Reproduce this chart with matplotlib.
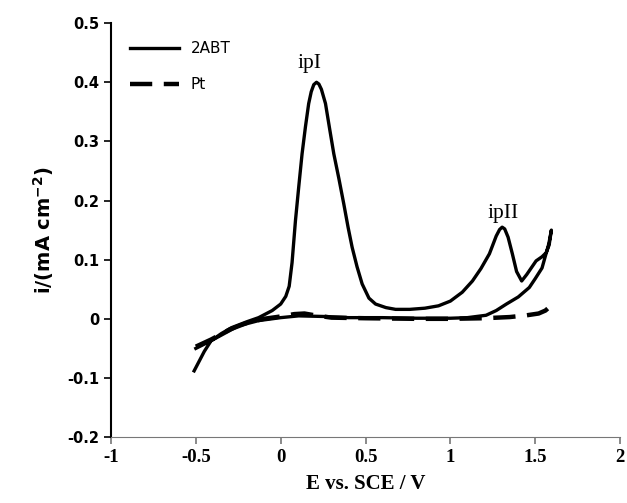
import matplotlib
matplotlib.use("Agg")
import matplotlib.pyplot as plt

# ── Data ──────────────────────────────────────────────────────────────────────
# 2ABT, forward scan
abt_fwd_E = [-0.51, -0.45, -0.41, -0.35, -0.29, -0.20, -0.13, -0.05, 0.00, 0.03,
             0.05, 0.067, 0.087, 0.107, 0.126, 0.146, 0.165, 0.180, 0.195, 0.211,
             0.225, 0.240, 0.264, 0.288, 0.313, 0.343, 0.372, 0.397, 0.421, 0.450,
             0.480, 0.520, 0.559, 0.620, 0.677, 0.760, 0.850, 0.930, 1.000, 1.070,
             1.130, 1.180, 1.230, 1.270, 1.290, 1.305, 1.320, 1.340, 1.365, 1.390,
             1.420, 1.450, 1.505, 1.540, 1.565, 1.582, 1.595]
abt_fwd_i = [-0.088, -0.055, -0.037, -0.025, -0.015, -0.005, 0.002, 0.014, 0.025, 0.038,
             0.055, 0.095, 0.166, 0.225, 0.279, 0.325, 0.364, 0.384, 0.396, 0.400,
             0.397, 0.388, 0.364, 0.322, 0.279, 0.237, 0.194, 0.155, 0.121, 0.088,
             0.059, 0.035, 0.025, 0.019, 0.016, 0.016, 0.018, 0.022, 0.030, 0.045,
             0.064, 0.085, 0.110, 0.140, 0.151, 0.155, 0.152, 0.138, 0.110, 0.080,
             0.064, 0.075, 0.098, 0.105, 0.112, 0.125, 0.150]

# 2ABT, reverse scan
abt_rev_E = [1.595, 1.58, 1.54, 1.50, 1.465, 1.40, 1.33, 1.27, 1.21, 1.10,
             1.00, 0.80, 0.60, 0.40, 0.25, 0.106, 0.00, -0.13, -0.25, -0.41,
             -0.50]
abt_rev_i = [0.150, 0.127, 0.086, 0.068, 0.053, 0.037, 0.025, 0.014, 0.006, 0.002,
             0.001, 0.001, 0.002, 0.002, 0.004, 0.005, 0.002, -0.003, -0.012, -0.037,
             -0.050]

# Pt
pt_E = [-0.50, -0.41, -0.30, -0.20, -0.10, 0.00, 0.08, 0.14, 0.20, 0.30,
        0.50, 0.80, 1.00, 1.20, 1.35, 1.45, 1.52, 1.56, 1.58]
pt_i = [-0.047, -0.035, -0.018, -0.007, 0.000, 0.004, 0.008, 0.009, 0.006, 0.002,
        0.001, 0.000, 0.000, 0.001, 0.003, 0.006, 0.009, 0.014, 0.019]

x_ticks = [-1, -0.5, 0, 0.5, 1, 1.5, 2]
x_tick_labels = ["-1", "-0.5", "0", "0.5", "1", "1.5", "2"]
y_ticks = [-0.2, -0.1, 0, 0.1, 0.2, 0.3, 0.4, 0.5]
y_tick_labels = ["-0.2", "-0.1", "0", "0.1", "0.2", "0.3", "0.4", "0.5"]

# ── Plot ──────────────────────────────────────────────────────────────────────
fig = plt.figure(figsize=(6.27, 5.03), dpi=100)
ax = fig.add_axes([0.177, 0.131, 0.812, 0.823])

ax.plot(abt_fwd_E + abt_rev_E, abt_fwd_i + abt_rev_i, color="black",
        linewidth=2.4, label="2ABT", solid_joinstyle="round")
ax.plot(pt_E, pt_i, color="black", linewidth=3.2, linestyle=(0, (5, 2.6)),
        label="Pt")

# peak labels
ax.text(0.17, 0.424, "ipI", family="Liberation Serif", fontsize=15.5,
        ha="center", va="baseline")
ax.text(1.31, 0.171, "ipII", family="Liberation Serif", fontsize=15.5,
        ha="center", va="baseline")

ax.set_xlim(-1, 2)
ax.set_ylim(-0.2, 0.5)
ax.set_xticks(x_ticks)
ax.set_xticklabels(x_tick_labels, family="Liberation Serif", fontweight="bold",
                   fontsize=13.5)
ax.set_yticks(y_ticks)
ax.set_yticklabels(y_tick_labels, family="DejaVu Sans", fontweight="bold",
                   fontsize=10.5)

ax.spines["top"].set_visible(False)
ax.spines["right"].set_visible(False)
ax.spines["left"].set_linewidth(1.5)
ax.spines["bottom"].set_color("#777777")
ax.tick_params(axis="both", direction="out", length=5, width=1.2)
ax.tick_params(axis="x", colors="#777777", labelcolor="black")

ax.set_xlabel("E vs. SCE / V", family="Liberation Serif", fontweight="bold",
              fontsize=15, labelpad=6)
ax.set_ylabel(r"i/(mA cm$^{\mathbf{-2}}$)", family="DejaVu Sans",
              fontweight="bold", fontsize=14, labelpad=8)

ax.legend(loc="upper left", frameon=False, fontsize=11, handlelength=3.2,
          labelspacing=1.4, bbox_to_anchor=(0.01, 0.99))

fig.savefig("out.png", dpi=100)
plt.close(fig)
